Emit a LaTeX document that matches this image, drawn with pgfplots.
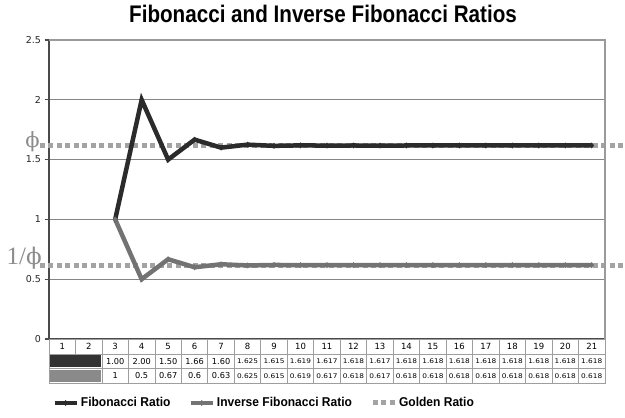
\documentclass[border=0pt]{standalone}
\usepackage{fontspec}
\setmainfont{DejaVu Sans}
\newfontfamily\titlefont[FakeStretch=0.86]{Liberation Sans}
\newfontfamily\legfont[FakeStretch=0.94]{Liberation Sans}
\newfontfamily\smallnum[FakeStretch=1.15]{DejaVu Sans}
\newfontfamily\phifont{Liberation Serif}
\newfontfamily\phiglyph{DejaVu Serif}
\usepackage{pgfplots}
\usepackage{pgfplotstable}
\pgfplotsset{compat=1.18}

\definecolor{fibdark}{HTML}{2B2B2B}
\definecolor{fibgray}{HTML}{737373}
\definecolor{golden}{HTML}{A3A3A3}
\definecolor{gridgray}{HTML}{858585}
\definecolor{framegray}{HTML}{9A9A9A}
\definecolor{axisdark}{HTML}{4A4A4A}
\definecolor{cellline}{HTML}{9E9E9E}
\definecolor{swdark}{HTML}{333333}
\definecolor{swgray}{HTML}{8A8A8A}
\definecolor{phigray}{HTML}{8C8C8C}

% ratio of consecutive Fibonacci numbers and its inverse
\pgfplotstableread{
n  fib    inv
3  1.000  1.000
4  2.000  0.500
5  1.500  0.667
6  1.667  0.600
7  1.600  0.625
8  1.625  0.615
9  1.615  0.619
10 1.619  0.618
11 1.617  0.618
12 1.618  0.618
13 1.617  0.618
14 1.618  0.618
15 1.618  0.618
16 1.618  0.618
17 1.618  0.618
18 1.618  0.618
19 1.618  0.618
20 1.618  0.618
21 1.618  0.618
}\ratios

\begin{document}
\begin{tikzpicture}
\path[use as bounding box] (0pt,0pt) rectangle (625pt,-418pt);
\begin{axis}[
    at={(49pt,-339pt)}, anchor=south west,
    scale only axis, width=556pt, height=299pt,
    xmin=0.5, xmax=21.5, ymin=0, ymax=2.5,
    ytick={0,0.5,1,1.5,2,2.5}, xtick=\empty,
    axis lines*=left,
    axis line style={axisdark, line width=2.5pt},
    ymajorgrids, grid style={gridgray, line width=0.9pt},
    tick style={axisdark, line width=1.2pt},
    major tick length=4.5pt, tick align=outside,
    yticklabel style={font=\fontsize{9.5}{10}\selectfont, text=black!85},
    /pgf/number format/assume math mode=true,
    clip=false,
    title={Fibonacci and Inverse Fibonacci Ratios},
    title style={font=\titlefont\bfseries\fontsize{24}{26}\selectfont,
        at={(0.5,1)}, anchor=base, yshift=12pt, xshift=-4pt},
    legend style={at={(0.387,-0.214)}, anchor=center, draw=none, fill=none,
        legend columns=3, font=\legfont\bfseries\fontsize{12.8}{14}\selectfont,
        /tikz/every even column/.append style={column sep=16pt},
        cells={anchor=west}},
    legend image code/.code={\draw[mark repeat=2,mark phase=2]
        plot coordinates {(0pt,0pt)(11pt,0pt)(22pt,0pt)};},
]
% golden ratio guides, behind the data
\addplot[golden, line width=5pt, dash pattern=on 5pt off 3.5pt, forget plot]
    coordinates {(0.16,1.618) (22.26,1.618)};
\addplot[golden, line width=5pt, dash pattern=on 5pt off 3.5pt, forget plot]
    coordinates {(0.16,0.618) (22.26,0.618)};

\addplot[fibdark, line width=4.5pt, mark=diamond*, mark size=2.6pt,
    mark options={solid, line width=0.5pt}] table[x=n, y=fib] {\ratios};
\addlegendentry{Fibonacci Ratio}
\addplot[fibgray, line width=4.5pt, mark=diamond*, mark size=2.6pt,
    mark options={solid, line width=0.5pt}] table[x=n, y=inv] {\ratios};
\addlegendentry{Inverse Fibonacci Ratio}
\addlegendimage{golden, line width=5pt, dash pattern=on 5pt off 3.5pt}
\addlegendentry{Golden Ratio}

\draw[framegray, line width=2pt] (rel axis cs:0,1) -- (rel axis cs:1,1) -- (rel axis cs:1,0);
\end{axis}

% phi labels
\node[anchor=base east, inner sep=0pt, text=phigray,
    font=\phiglyph\fontsize{21}{21}\selectfont] at (40pt,-147.5pt) {ϕ};
\node[anchor=base east, inner sep=0pt, text=phigray,
    font=\phifont\fontsize{25}{25}\selectfont] at (42pt,-264.5pt) {1/{\phiglyph\fontsize{23}{23}\selectfont ϕ}};

% data table under the plot
\begin{scope}[x=1pt, y=1pt]
\def\cw{26.476}
\foreach \c in {1,...,21}{
  \draw[cellline, line width=0.8pt] ({49+(\c-1)*\cw},-339) rectangle ({49+\c*\cw},-354);
  \node[font=\fontsize{8.5}{9}\selectfont, inner sep=0pt] at ({49+(\c-0.5)*\cw},-346.5) {\c};
}
\draw[cellline, line width=0.8pt] (49,-354) rectangle ({49+2*\cw},-368.5);
\draw[cellline, line width=0.8pt] (49,-368.5) rectangle ({49+2*\cw},-383);
\fill[swdark] (50.2,-355.2) rectangle ({49+2*\cw-1.2},-367.3);
\fill[swgray] (50.2,-369.7) rectangle ({49+2*\cw-1.2},-381.8);
\foreach \v [count=\c from 3] in {1.00,2.00,1.50,1.66,1.60,1.625,1.615,1.619,1.617,1.618,1.617,1.618,1.618,1.618,1.618,1.618,1.618,1.618,1.618}{
  \draw[cellline, line width=0.8pt] ({49+(\c-1)*\cw},-354) rectangle ({49+\c*\cw},-368.5);
  \node[inner sep=0pt, font=\ifnum\c<8 \fontsize{8.2}{9}\selectfont\else\smallnum\fontsize{6.4}{7}\selectfont\fi]
    at ({49+(\c-0.5)*\cw},-361.25) {\v};
}
\foreach \v [count=\c from 3] in {1,0.5,0.67,0.6,0.63,0.625,0.615,0.619,0.617,0.618,0.617,0.618,0.618,0.618,0.618,0.618,0.618,0.618,0.618}{
  \draw[cellline, line width=0.8pt] ({49+(\c-1)*\cw},-368.5) rectangle ({49+\c*\cw},-383);
  \node[inner sep=0pt, font=\ifnum\c<8 \fontsize{8.2}{9}\selectfont\else\smallnum\fontsize{6.4}{7}\selectfont\fi]
    at ({49+(\c-0.5)*\cw},-375.75) {\v};
}
\end{scope}
\end{tikzpicture}
\end{document}
